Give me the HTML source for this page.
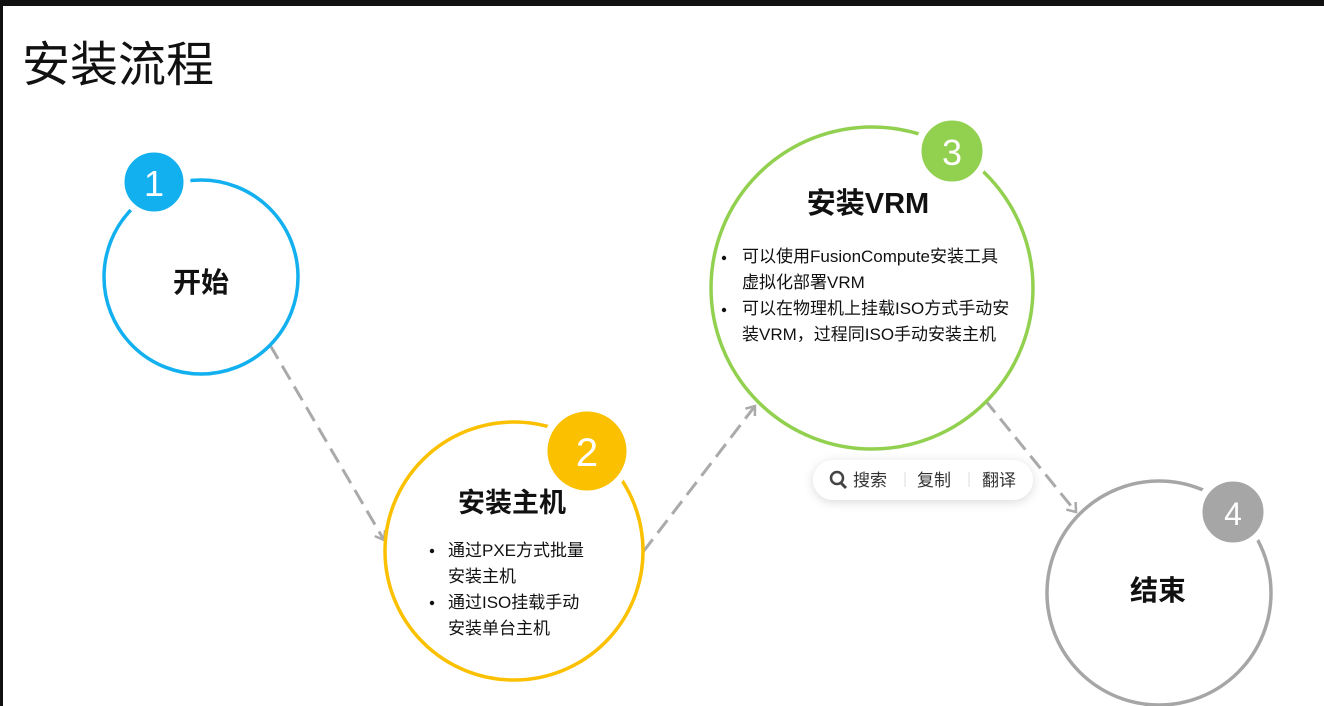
<!DOCTYPE html>
<html><head><meta charset="utf-8"><style>
html,body{margin:0;padding:0;background:#fff;}
body{width:1324px;height:706px;overflow:hidden;position:relative;font-family:"Liberation Sans","Noto Sans CJK SC",sans-serif;}
</style></head><body>
<svg width="1324" height="706" viewBox="0 0 1324 706" xmlns="http://www.w3.org/2000/svg" style="position:absolute;left:0;top:0;font-family:'Liberation Sans','Noto Sans CJK SC',sans-serif">
<defs>
<marker id="ah" markerWidth="14" markerHeight="14" refX="10" refY="7" orient="auto" markerUnits="userSpaceOnUse">
<path d="M2,1 L10,7 L2,13" fill="none" stroke="#aaa" stroke-width="2.5"/>
</marker>
<filter id="sh" x="-20%" y="-50%" width="140%" height="200%"><feDropShadow dx="0" dy="2" stdDeviation="5" flood-color="#000" flood-opacity="0.15"/></filter>
</defs>
<rect x="0" y="0" width="1324" height="6" fill="#111"/>
<rect x="0" y="0" width="3" height="706" fill="#111"/>
<text x="22" y="81" font-size="48" fill="#111">安装流程</text>

<g stroke="#aaa" stroke-width="3" stroke-dasharray="16 8" fill="none">
<line x1="270" y1="345" x2="384" y2="540" marker-end="url(#ah)"/>
<line x1="643" y1="552" x2="755" y2="406" marker-end="url(#ah)"/>
<line x1="985" y1="400" x2="1076" y2="512" marker-end="url(#ah)"/>
</g>

<circle cx="201" cy="277" r="97" fill="#fff" stroke="#12b0ef" stroke-width="3.5"/>
<circle cx="154" cy="182" r="33" fill="#12b0ef" stroke="#fff" stroke-width="7"/>
<text x="154" y="196" font-size="36" fill="#fff" text-anchor="middle">1</text>
<text x="201" y="292" font-size="28" font-weight="bold" fill="#111" text-anchor="middle">开始</text>

<circle cx="514" cy="551" r="129" fill="#fff" stroke="#fbc000" stroke-width="3.5"/>
<circle cx="587" cy="451" r="43" fill="#fbc000" stroke="#fff" stroke-width="7"/>
<text x="587" y="466" font-size="40" fill="#fff" text-anchor="middle">2</text>
<text x="512" y="512" font-size="27" font-weight="bold" fill="#111" text-anchor="middle">安装主机</text>
<g font-size="17" fill="#111">
<circle cx="432" cy="551" r="2.2"/><circle cx="432" cy="603" r="2.2"/>
<text x="448" y="556">通过PXE方式批量</text>
<text x="448" y="582">安装主机</text>
<text x="448" y="608">通过ISO挂载手动</text>
<text x="448" y="634">安装单台主机</text>
</g>

<circle cx="872" cy="288" r="161" fill="#fff" stroke="#92d050" stroke-width="3.5"/>
<circle cx="952" cy="151" r="34" fill="#92d050" stroke="#fff" stroke-width="7"/>
<text x="952" y="165" font-size="36" fill="#fff" text-anchor="middle">3</text>
<text x="868" y="213" font-size="29" font-weight="bold" fill="#111" text-anchor="middle">安装VRM</text>
<g font-size="17" fill="#111">
<circle cx="724" cy="258" r="2.2"/><circle cx="724" cy="310" r="2.2"/>
<text x="742" y="262">可以使用FusionCompute安装工具</text>
<text x="742" y="288">虚拟化部署VRM</text>
<text x="742" y="314">可以在物理机上挂载ISO方式手动安</text>
<text x="742" y="340">装VRM，过程同ISO手动安装主机</text>
</g>

<circle cx="1159" cy="593" r="112" fill="#fff" stroke="#a6a6a6" stroke-width="3.5"/>
<circle cx="1233" cy="512" r="34" fill="#a6a6a6" stroke="#fff" stroke-width="7"/>
<text x="1233" y="525" font-size="32" fill="#fff" text-anchor="middle">4</text>
<text x="1158" y="600" font-size="28" font-weight="bold" fill="#111" text-anchor="middle">结束</text>

<rect x="813" y="460" width="220" height="40" rx="20" fill="#fff" filter="url(#sh)"/>
<circle cx="837" cy="478" r="6" fill="none" stroke="#444" stroke-width="2.5"/>
<line x1="841" y1="483" x2="846" y2="488" stroke="#444" stroke-width="3"/>
<g font-size="17" fill="#333">
<text x="853" y="486">搜索</text>
<text x="917" y="486">复制</text>
<text x="982" y="486">翻译</text>
</g>
<line x1="905" y1="472" x2="905" y2="487" stroke="#ddd" stroke-width="1"/>
<line x1="969" y1="472" x2="969" y2="487" stroke="#ddd" stroke-width="1"/>
</svg>
</body></html>
